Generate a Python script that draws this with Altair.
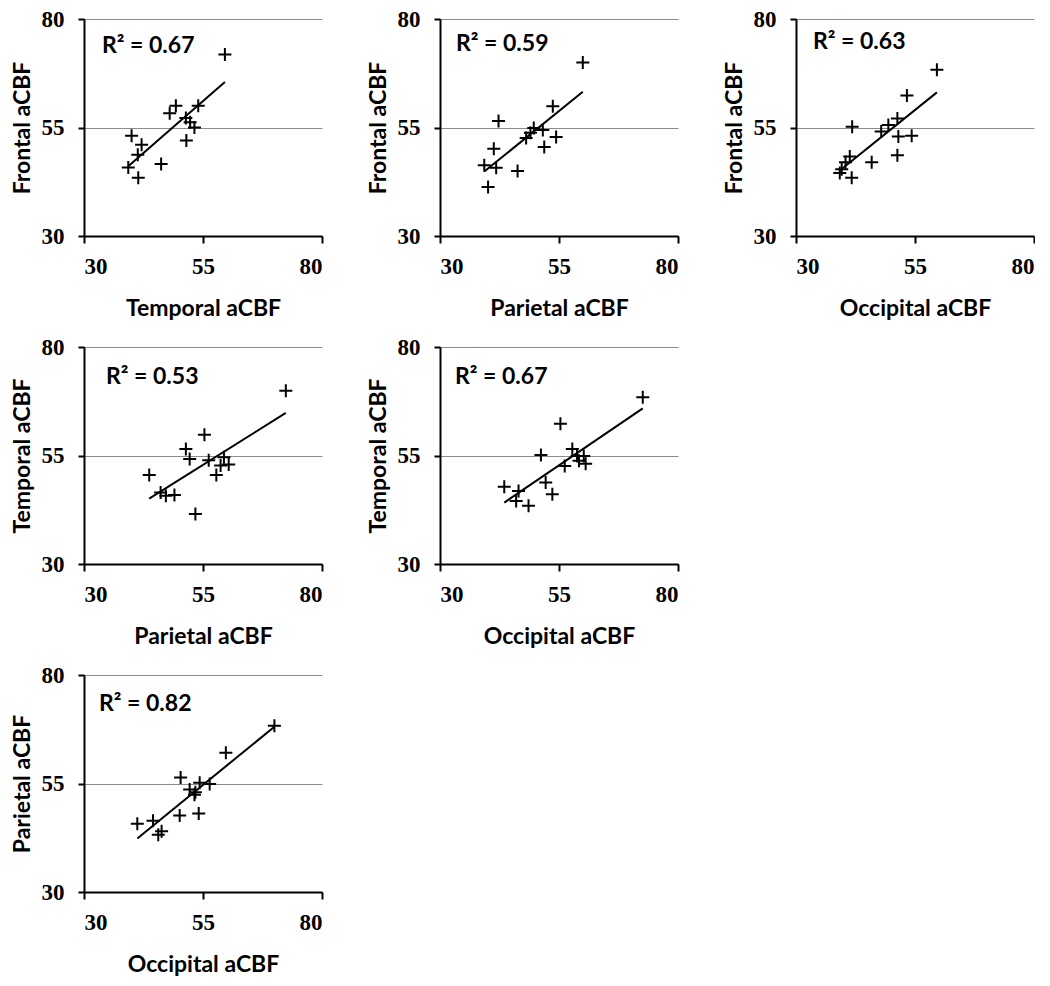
import altair as alt
import pandas as pd

# Panel 1: Temporal (x) vs Frontal (y)
p1_x = [59.6, 54.0, 49.3, 48.0, 51.4, 52.3, 53.2, 51.5, 40.0, 42.1, 41.3, 46.2, 39.3, 41.4]
p1_y = [71.8, 60.0, 60.0, 58.3, 57.2, 56.2, 55.0, 52.0, 53.1, 51.0, 48.7, 46.6, 45.8, 43.4]
# Panel 2: Parietal (x) vs Frontal (y)
p2_x = [60.0, 53.7, 42.3, 49.7, 51.6, 49.0, 48.1, 54.4, 51.9, 41.3, 39.3, 41.8, 46.3, 40.1]
p2_y = [70.0, 59.9, 56.5, 54.9, 54.4, 53.8, 52.6, 52.8, 50.5, 50.1, 46.3, 45.7, 45.0, 41.3]
# Panel 3: Occipital (x) vs Frontal (y)
p3_x = [59.6, 53.3, 51.3, 49.4, 47.9, 41.8, 51.5, 54.3, 51.3, 45.9, 41.3, 40.4, 39.6, 39.2, 41.7]
p3_y = [68.3, 62.4, 57.1, 55.6, 54.1, 55.2, 52.9, 53.1, 48.6, 47.0, 48.3, 47.0, 45.4, 44.5, 43.4]
# Panel 4: Parietal (x) vs Temporal (y)
p4_x = [72.4, 55.3, 51.4, 52.2, 56.2, 59.4, 60.4, 58.7, 57.8, 43.7, 46.1, 47.2, 49.0, 53.4]
p4_y = [69.9, 59.8, 56.5, 54.2, 53.9, 54.6, 52.9, 52.7, 50.5, 50.5, 46.5, 45.7, 45.9, 41.5]
# Panel 5: Occipital (x) vs Temporal (y)
p5_x = [72.6, 55.3, 57.8, 51.2, 58.8, 60.2, 59.2, 60.6, 56.2, 52.2, 53.6, 43.5, 46.5, 46.0, 48.6]
p5_y = [68.4, 62.3, 56.5, 55.1, 54.9, 54.9, 53.8, 53.1, 52.6, 48.8, 46.1, 47.8, 46.8, 44.5, 43.4]
# Panel 6: Occipital (x) vs Parietal (y)
p6_x = [70.0, 59.8, 50.3, 54.3, 56.4, 52.2, 53.4, 53.2, 54.1, 50.1, 41.2, 44.5, 46.3, 45.6]
p6_y = [68.3, 62.1, 56.4, 55.2, 54.9, 53.6, 53.0, 52.4, 48.1, 47.6, 45.7, 46.4, 44.0, 43.2]

x_titles = ["Temporal aCBF", "Parietal aCBF", "Occipital aCBF", "Parietal aCBF", "Occipital aCBF", "Occipital aCBF"]
y_titles = ["Frontal aCBF", "Frontal aCBF", "Frontal aCBF", "Temporal aCBF", "Temporal aCBF", "Parietal aCBF"]
r2_labels = ["R² = 0.67", "R² = 0.59", "R² = 0.63", "R² = 0.53", "R² = 0.67", "R² = 0.82"]
tick_values = [30, 55, 80]

W, H = 238, 217
TITLE_FONT = "Lato"
LABEL_FONT = "Liberation Serif"


def panel(xs, ys, xt, yt, r2, tx, ty):
    df = pd.DataFrame({"x": xs, "y": ys})
    xscale = alt.Scale(domain=[30, 80], nice=False, zero=False)
    yscale = alt.Scale(domain=[30, 80], nice=False, zero=False)
    xaxis = alt.Axis(values=tick_values, title=xt, grid=False, tickSize=7,
                     labelPadding=12, titlePadding=19)
    yaxis = alt.Axis(values=tick_values, title=yt, grid=True, tickSize=6,
                     labelPadding=14, titlePadding=7)
    pts = alt.Chart(df).mark_point(
        shape="M-1,0L1,0M0,-1L0,1", size=169, filled=False, color="black",
        strokeWidth=2, opacity=1
    ).encode(
        x=alt.X("x:Q", scale=xscale, axis=xaxis),
        y=alt.Y("y:Q", scale=yscale, axis=yaxis),
    )
    line = alt.Chart(df).transform_regression("x", "y").mark_line(
        color="black", strokeWidth=2
    ).encode(
        x=alt.X("x:Q", scale=xscale, axis=xaxis),
        y=alt.Y("y:Q", scale=yscale, axis=yaxis),
    )
    txt = alt.Chart(pd.DataFrame({"t": [r2]})).mark_text(
        align="left", baseline="alphabetic", font=TITLE_FONT, fontSize=23,
        fontWeight="bold", color="black"
    ).encode(text="t:N", x=alt.value(tx), y=alt.value(ty))
    return alt.layer(pts, line, txt).properties(width=W, height=H)


def blank():
    return alt.Chart(pd.DataFrame({"a": [0]})).mark_point(opacity=0).encode(
        x=alt.X("a:Q", axis=None), y=alt.Y("a:Q", axis=None)
    ).properties(width=W, height=H)


p1 = panel(p1_x, p1_y, x_titles[0], y_titles[0], r2_labels[0], 18, 34)
p2 = panel(p2_x, p2_y, x_titles[1], y_titles[1], r2_labels[1], 16, 32)
p3 = panel(p3_x, p3_y, x_titles[2], y_titles[2], r2_labels[2], 17, 30)
p4 = panel(p4_x, p4_y, x_titles[3], y_titles[3], r2_labels[3], 22, 37)
p5 = panel(p5_x, p5_y, x_titles[4], y_titles[4], r2_labels[4], 15, 37)
p6 = panel(p6_x, p6_y, x_titles[5], y_titles[5], r2_labels[5], 15, 36)

chart = alt.concat(
    p1, p2, p3, p4, p5, blank(), p6,
    columns=3, spacing={"row": 111, "column": 118}, bounds="flush"
).properties(
    padding={"left": 3, "top": 0, "right": 0, "bottom": 0}, background="white"
).configure_view(stroke=None).configure_axis(
    domainColor="black", domainWidth=2, tickColor="black", tickWidth=2,
    gridColor="#8c8c8c", gridWidth=1,
    labelFont=LABEL_FONT, labelFontSize=23, labelFontWeight="bold", labelColor="black",
    titleFont=TITLE_FONT, titleFontSize=23, titleFontWeight="bold", titleColor="black",
)

chart.save("out.html", embed_options={"renderer": "svg", "actions": False})
